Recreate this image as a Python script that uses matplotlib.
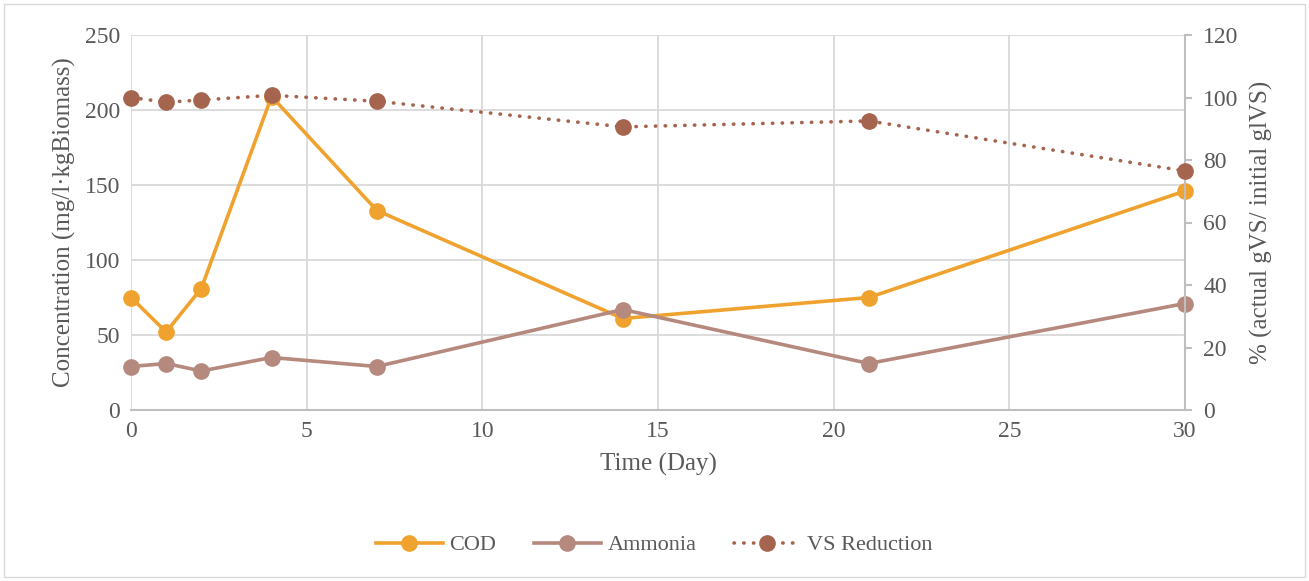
import matplotlib.pyplot as plt
from matplotlib.patches import Rectangle

days = [0, 1, 2, 4, 7, 14, 21, 30]
cod = [75, 52, 81, 209, 133, 61, 75, 146]
ammonia = [29, 31, 26, 35, 29, 67, 31, 71]
vs_reduction = [100, 98.5, 99.2, 100.7, 98.8, 90.6, 92.5, 76.5]

TEXT = '#595959'
GRID = '#D9D9D9'
plt.rcParams['font.family'] = ['Liberation Serif', 'DejaVu Serif']

fig = plt.figure(figsize=(13.09, 5.81), dpi=100)
ax = fig.add_axes([131 / 1309, 1 - 410 / 581, (1185 - 131) / 1309, (410 - 35) / 581])
ax2 = ax.twinx()

# outer chart frame
fig.patches.append(Rectangle((4 / 1309, 4 / 581), 1 - 8 / 1309, 1 - 8 / 581,
                             transform=fig.transFigure, fill=False,
                             edgecolor=GRID, linewidth=1))

l1, = ax.plot(days, cod, color='#F0A22E', linewidth=2.6, marker='o',
              markersize=11, label='COD', zorder=3, clip_on=False)
l2, = ax.plot(days, ammonia, color='#B5897D', linewidth=2.6, marker='o',
              markersize=11, label='Ammonia', zorder=3, clip_on=False)
l3, = ax2.plot(days, vs_reduction, color='#A5644E', linewidth=2.6,
               linestyle=(0, (0.1, 2.6)), dash_capstyle='round', marker='o',
               markersize=11, label='VS Reduction', zorder=3, clip_on=False)

ax.set_xlim(0, 30)
ax.set_ylim(0, 250)
ax2.set_ylim(0, 120)
ax.set_xticks(range(0, 31, 5))
ax.set_yticks(range(0, 251, 50))
ax2.set_yticks(range(0, 121, 20))

ax.grid(True, color=GRID, linewidth=1.3)
ax.set_axisbelow(True)
for a in (ax, ax2):
    for s in a.spines.values():
        s.set_visible(False)
ax2.spines['right'].set_visible(True)
ax2.spines['right'].set_color('#BFBFBF')
ax2.spines['right'].set_linewidth(1.5)
ax.spines['bottom'].set_visible(True)
ax.spines['bottom'].set_color('#BFBFBF')
ax.spines['bottom'].set_linewidth(1.5)

ax.tick_params(axis='both', length=0, labelsize=17, labelcolor=TEXT, pad=8)
ax.tick_params(axis='x', pad=8)
ax2.tick_params(axis='y', length=5, color='#BFBFBF', width=1.5,
                labelsize=17, labelcolor=TEXT, pad=8)

ax.set_xlabel('Time (Day)', fontsize=18, color=TEXT, labelpad=8)
ax.set_ylabel('Concentration (mg/l·kgBiomass)', fontsize=18, color=TEXT, labelpad=6)
ax2.set_ylabel('% (actual gVS/ initial glVS)', fontsize=18, color=TEXT, labelpad=8)

fig.legend(handles=[l1, l2, l3], loc='center', bbox_to_anchor=(0.5, 1 - 545 / 581),
           ncol=3, frameon=False, fontsize=16, labelcolor=TEXT,
           handlelength=3.0, columnspacing=1.7, handletextpad=0.3)

fig.savefig('out.png', dpi=100)
